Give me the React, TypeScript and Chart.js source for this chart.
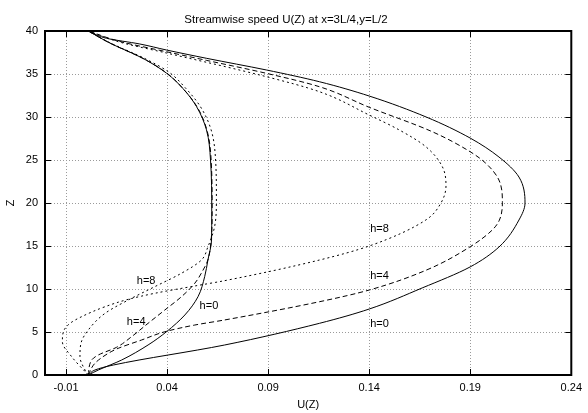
import React, { useEffect, useRef } from "react";
import { Chart, registerables } from "chart.js";

Chart.register(...registerables);

// Axis ticks
const xTickValues = [-0.01, 0.04, 0.09, 0.14, 0.19, 0.24];
const yTickValues = [0, 5, 10, 15, 20, 25, 30, 35, 40];

// Outer profiles (large bulge)
const outerH0U = [0.001, 0.0043, 0.0134, 0.0685, 0.1154, 0.14, 0.1662, 0.1899, 0.2042, 0.2141, 0.2171, 0.2141, 0.2042, 0.1899, 0.1682, 0.14, 0.1154, 0.0891, 0.0594, 0.0397, 0.0265, 0.0101, 0.001];
const outerH0Z = [0, 0.58, 1.16, 3.49, 6.01, 7.67, 10.12, 12.56, 14.88, 18.02, 20.0, 23.02, 25.35, 27.56, 30.0, 32.44, 34.1, 35.47, 36.83, 37.79, 38.49, 39.15, 40];

const outerH4U = [0.001, 0.0043, 0.0109, 0.0158, 0.0274, 0.0389, 0.0537, 0.0685, 0.1154, 0.14, 0.1683, 0.19, 0.2009, 0.2044, 0.2059, 0.2042, 0.1977, 0.1899, 0.1712, 0.14, 0.1154, 0.0891, 0.0594, 0.0397, 0.0167, 0.001];
const outerH4Z = [0, 1.36, 2.52, 3.1, 4.07, 5.03, 5.81, 6.4, 8.52, 9.88, 12.2, 14.92, 16.86, 18.0, 20.03, 22.67, 24.62, 25.97, 28.29, 31.13, 33.52, 35.08, 36.59, 37.59, 38.78, 40];

const outerH8U = [0.001, -0.0072, -0.0118, -0.0113, -0.008, -0.0023, 0.0093, 0.0208, 0.0339, 0.0537, 0.0685, 0.1154, 0.14, 0.168, 0.1755, 0.178, 0.1762, 0.168, 0.1549, 0.14, 0.1154, 0.0891, 0.0397, 0.0167, 0.001];
const outerH8Z = [0, 2.13, 3.87, 5.03, 6.01, 6.78, 7.94, 8.8, 9.5, 10.35, 10.97, 13.37, 15.0, 18.02, 20.0, 22.0, 24.22, 26.55, 28.49, 30.23, 32.94, 34.69, 37.44, 38.7, 40];

// Inner profiles (narrow bulge)
const innerH0U = [0.001, 0.006, 0.0175, 0.0306, 0.0397, 0.0488, 0.0553, 0.0586, 0.0602, 0.062, 0.0621, 0.0615, 0.0595, 0.0546, 0.0479, 0.0397, 0.0282, 0.0117, 0.001];
const innerH0Z = [0, 0.58, 1.74, 3.49, 5.03, 6.98, 9.1, 11.43, 13.37, 15.7, 19.0, 25.0, 28.5, 31.2, 33.3, 35.1, 36.8, 38.6, 40];

const innerH4U = [0.001, 0.0027, 0.006, 0.015, 0.0224, 0.0306, 0.0389, 0.0471, 0.0537, 0.0578, 0.0602, 0.0618, 0.0623, 0.0618, 0.0597, 0.0548, 0.0479, 0.0399, 0.0282, 0.0117, 0.001];
const innerH4Z = [0, 1.74, 2.33, 3.22, 4.45, 6.01, 7.56, 9.1, 10.66, 12.2, 13.37, 15.7, 19.0, 25.0, 28.5, 31.2, 33.3, 35.1, 36.8, 38.6, 40];

const innerH8U = [0.001, -0.0006, -0.0031, -0.0026, 0.001, 0.0093, 0.0208, 0.0339, 0.0471, 0.057, 0.0602, 0.0635, 0.0644, 0.064, 0.0618, 0.0565, 0.049, 0.041, 0.029, 0.012, 0.001];
const innerH8Z = [0, 0.58, 2.13, 3.69, 5.23, 7.17, 8.72, 10.27, 11.83, 13.37, 14.9, 17.24, 20.35, 25.0, 28.5, 31.2, 33.4, 35.2, 36.8, 38.6, 40];

// Curve labels
const labelText = ["h=8", "h=4", "h=0", "h=8", "h=4", "h=0"];
const labelU = [0.025, 0.0201, 0.0561, 0.1405, 0.1405, 0.1405];
const labelZ = [10.93, 6.16, 7.97, 16.94, 11.5, 5.93];

const titleText = "Streamwise speed U(Z) at x=3L/4,y=L/2";
const xTitle = "U(Z)";
const yTitle = "Z";

const FONT = '"Liberation Sans", Arial, Helvetica, sans-serif';

function pts(u: number[], z: number[]) {
  return u.map((v, i) => ({ x: v, y: z[i] }));
}

function ds(label: string, u: number[], z: number[], dash: number[]) {
  return {
    label,
    data: pts(u, z),
    showLine: true,
    borderColor: "#000",
    backgroundColor: "#000",
    borderWidth: 1,
    borderDash: dash,
    pointRadius: 0,
    cubicInterpolationMode: "monotone",
    fill: false,
  };
}

const framePlugin = {
  id: "gnuplotFrame",
  afterDraw(chart: any) {
    const { ctx, chartArea: a, scales } = chart;
    const xs = scales.x;
    const ys = scales.y;
    ctx.save();
    ctx.setLineDash([]);
    ctx.strokeStyle = "#000";
    ctx.lineWidth = 1;
    ctx.beginPath();
    for (const v of xTickValues) {
      const px = Math.round(xs.getPixelForValue(v)) + 0.5;
      ctx.moveTo(px, a.bottom);
      ctx.lineTo(px, a.bottom - 6);
      ctx.moveTo(px, a.top);
      ctx.lineTo(px, a.top + 6);
    }
    for (const v of yTickValues) {
      const py = Math.round(ys.getPixelForValue(v)) + 0.5;
      ctx.moveTo(a.left, py);
      ctx.lineTo(a.left + 6, py);
      ctx.moveTo(a.right, py);
      ctx.lineTo(a.right - 6, py);
    }
    ctx.stroke();
    ctx.lineWidth = 2;
    ctx.strokeRect(a.left, a.top, a.right - a.left, a.bottom - a.top);

    ctx.fillStyle = "#000";
    ctx.font = "11px " + FONT;
    ctx.textBaseline = "middle";
    ctx.textAlign = "left";
    labelText.forEach((t, i) => {
      ctx.fillText(t, xs.getPixelForValue(labelU[i]), ys.getPixelForValue(labelZ[i]));
    });
    ctx.restore();
  },
};

export default function App() {
  const ref = useRef<HTMLCanvasElement | null>(null);

  useEffect(() => {
    document.body.style.margin = "0";
    const canvas = ref.current;
    if (!canvas) return;
    const chart = new Chart(canvas, {
      type: "scatter",
      data: {
        datasets: [
          ds("h=0 outer", outerH0U, outerH0Z, []),
          ds("h=4 outer", outerH4U, outerH4Z, [5, 3]),
          ds("h=8 outer", outerH8U, outerH8Z, [2, 3]),
          ds("h=0 inner", innerH0U, innerH0Z, []),
          ds("h=4 inner", innerH4U, innerH4Z, [5, 3]),
          ds("h=8 inner", innerH8U, innerH8Z, [2, 3]),
        ],
      },
      options: {
        indexAxis: "y",
        responsive: false,
        animation: false,
        devicePixelRatio: 1,
        layout: { padding: { left: 0, right: 16, top: 0, bottom: 0 } },
        plugins: {
          legend: { display: false },
          tooltip: { enabled: false },
          title: {
            display: true,
            text: titleText,
            color: "#000",
            font: { family: FONT, size: 11.5, weight: "normal" },
            padding: { top: 12.6, bottom: 4.6 },
          },
        },
        scales: {
          x: {
            type: "linear",
            position: "bottom",
            min: -0.0204,
            max: 0.24,
            afterBuildTicks: (s: any) => {
              s.ticks = xTickValues.map((v) => ({ value: v }));
            },
            afterFit: (s: any) => {
              s.height = 38;
            },
            ticks: {
              color: "#000",
              font: { family: FONT, size: 11 },
              padding: 6,
              autoSkip: false,
              maxRotation: 0,
              callback: (v: any) => Number(v).toFixed(2),
            },
            grid: { color: "#9a9a9a", lineWidth: 1, drawTicks: false },
            border: { display: false, dash: [1, 2] },
            title: {
              display: true,
              text: xTitle,
              color: "#000",
              font: { family: FONT, size: 11 },
              padding: { top: 0, bottom: 1.5 },
            },
          },
          y: {
            type: "linear",
            position: "left",
            min: 0,
            max: 40,
            afterBuildTicks: (s: any) => {
              s.ticks = yTickValues.map((v) => ({ value: v }));
            },
            afterFit: (s: any) => {
              s.width = 45;
            },
            ticks: {
              color: "#000",
              font: { family: FONT, size: 11 },
              padding: 7,
              autoSkip: false,
            },
            grid: { color: "#9a9a9a", lineWidth: 1, drawTicks: false },
            border: { display: false, dash: [1, 2] },
            title: {
              display: true,
              text: yTitle,
              color: "#000",
              font: { family: FONT, size: 11 },
              padding: { top: 4.4, bottom: 0 },
            },
          },
        },
      },
      plugins: [framePlugin],
    });
    return () => chart.destroy();
  }, []);

  return (
    <div style={{ width: 588, height: 413 }}>
      <canvas ref={ref} width={588} height={413} style={{ display: "block" }} />
    </div>
  );
}
